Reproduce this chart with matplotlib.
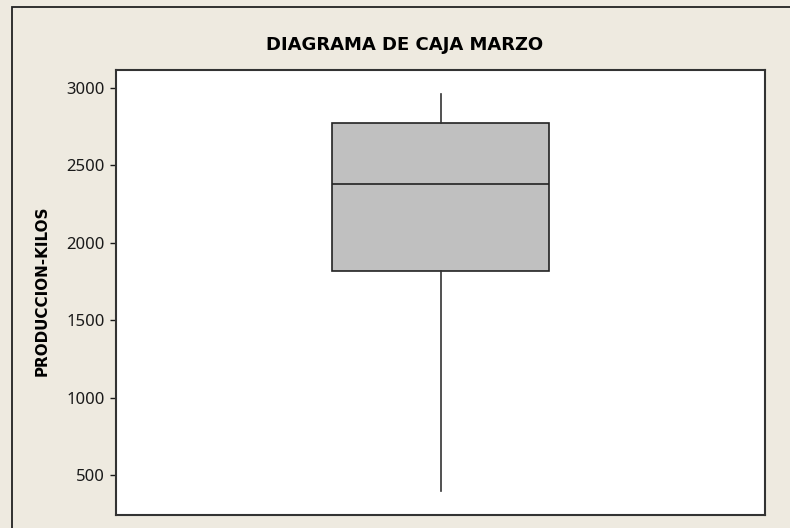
import matplotlib.pyplot as plt
from matplotlib.patches import Rectangle

# summary values (kilos)
labels = ['MARZO']
q1 = [1818]
med = [2378]
q3 = [2772]
whislo = [397]
whishi = [2961]
yticks = [500, 1000, 1500, 2000, 2500, 3000]

plt.rcParams['font.family'] = ['Noto Sans', 'DejaVu Sans']

bg = '#eeeae0'
fig = plt.figure(figsize=(7.9, 5.28), dpi=100, facecolor=bg)

# outer frame (runs off the right and bottom edges)
fig.patches.append(Rectangle((12 / 790, -0.1), 1.2, 1.1 - 7 / 528,
                             transform=fig.transFigure, fill=False,
                             edgecolor='#222222', linewidth=1.3))

ax = fig.add_axes([116 / 790, 13 / 528, 649 / 790, 445 / 528])
ax.set_facecolor('white')

stats = [dict(label=labels[i], q1=q1[i], med=med[i], q3=q3[i],
              whislo=whislo[i], whishi=whishi[i], fliers=[])
         for i in range(len(labels))]
ax.bxp(stats, positions=[1], widths=0.333, showcaps=False, showfliers=False,
       patch_artist=True,
       boxprops=dict(facecolor='#c0c0c0', edgecolor='#222222', linewidth=1.2),
       medianprops=dict(color='#222222', linewidth=1.2),
       whiskerprops=dict(color='#333333', linewidth=1.2))

ax.set_xlim(0.5, 1.5)
ax.set_ylim(241.6, 3116.3)
ax.set_yticks(yticks)
ax.set_xticks([])
ax.tick_params(axis='y', direction='out', length=4, width=1, pad=4,
               labelsize=12, colors='#1a1a1a')
for s in ax.spines.values():
    s.set_linewidth(1.5)
    s.set_color('#333333')

fig.text(42 / 790, 1 - 291 / 528, 'PRODUCCION-KILOS', rotation=90,
         ha='center', va='center', fontsize=10.9, fontweight='bold',
         family=['DejaVu Sans'])
fig.text(405 / 790, 1 - 45 / 528, 'DIAGRAMA DE CAJA MARZO', ha='center', va='center',
         fontsize=13, fontweight='bold', family=['DejaVu Sans'])

plt.savefig('out.png', dpi=100, facecolor=bg)
